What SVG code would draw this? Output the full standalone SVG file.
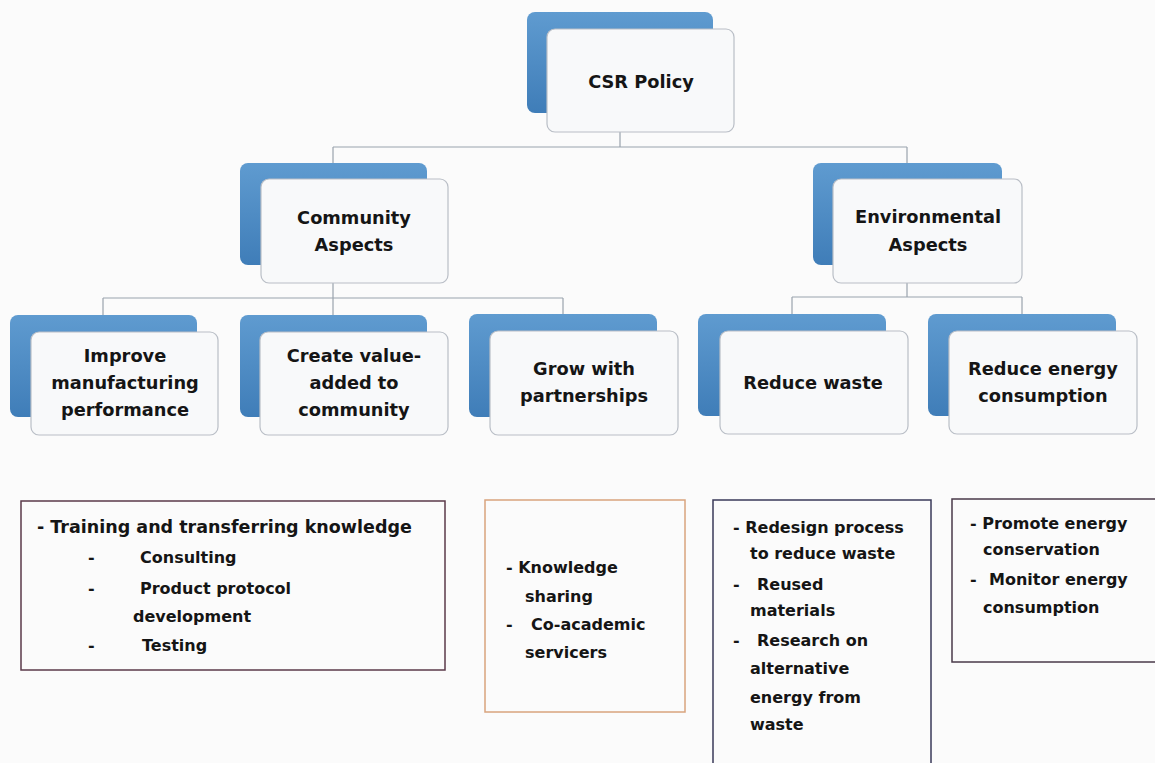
<svg xmlns="http://www.w3.org/2000/svg" width="1155" height="763" viewBox="0 0 1155 763">
<defs>
<linearGradient id="blueG" x1="0" y1="0" x2="0" y2="1">
<stop offset="0" stop-color="#5f9bd0"/>
<stop offset="1" stop-color="#3f7db8"/>
</linearGradient>
<style>
.back{fill:url(#blueG);}
.front{fill:#f8f9fa;stroke:#b9bec6;stroke-width:1.2;}
.lbl{font-family:"DejaVu Sans","Open Sans",sans-serif;font-weight:bold;font-size:17.8px;fill:#151515;text-anchor:middle;}
.conn{fill:none;stroke:#9aa3ad;stroke-width:1.2;}
.box{fill:none;stroke-width:1.5;}
.txt{font-family:"DejaVu Sans","Open Sans",sans-serif;font-weight:bold;font-size:16px;fill:#151515;}
</style>
</defs>
<rect x="0" y="0" width="1155" height="763" fill="#fbfbfb"/>
<g id="connectors">
<path class="conn" d="M620 132 V147 M333 147 H907 M333 147 V163 M907 147 V163"/>
<path class="conn" d="M333 283 V298 M103 298 H563 M103 298 V315 M333 298 V315 M563 298 V315"/>
<path class="conn" d="M907 283 V297 M792 297 H1022 M792 297 V314 M1022 297 V314"/>
</g>
<g id="csr">
<rect class="back" x="527" y="12" width="186" height="101" rx="8"/>
<rect class="front" x="547" y="29" width="187" height="103" rx="8"/>
<text class="lbl" x="641" y="88">CSR Policy</text>
</g>
<g id="community">
<rect class="back" x="240" y="163" width="187" height="102" rx="8"/>
<rect class="front" x="261" y="179" width="187" height="104" rx="8"/>
<text class="lbl" x="354" y="224">Community</text>
<text class="lbl" x="354" y="251">Aspects</text>
</g>
<g id="environmental">
<rect class="back" x="813" y="163" width="189" height="102" rx="8"/>
<rect class="front" x="833" y="179" width="189" height="104" rx="8"/>
<text class="lbl" x="928" y="223">Environmental</text>
<text class="lbl" x="928" y="251">Aspects</text>
</g>
<g id="improve">
<rect class="back" x="10" y="315" width="187" height="102" rx="8"/>
<rect class="front" x="31" y="332" width="187" height="103" rx="8"/>
<text class="lbl" x="125" y="362">Improve</text>
<text class="lbl" x="125" y="389">manufacturing</text>
<text class="lbl" x="125" y="416">performance</text>
</g>
<g id="create">
<rect class="back" x="240" y="315" width="187" height="102" rx="8"/>
<rect class="front" x="260" y="332" width="188" height="103" rx="8"/>
<text class="lbl" x="354" y="362">Create value-</text>
<text class="lbl" x="354" y="389">added to</text>
<text class="lbl" x="354" y="416">community</text>
</g>
<g id="grow">
<rect class="back" x="469" y="314" width="188" height="103" rx="8"/>
<rect class="front" x="490" y="331" width="188" height="104" rx="8"/>
<text class="lbl" x="584" y="375">Grow with</text>
<text class="lbl" x="584" y="402">partnerships</text>
</g>
<g id="waste">
<rect class="back" x="698" y="314" width="188" height="102" rx="8"/>
<rect class="front" x="720" y="331" width="188" height="103" rx="8"/>
<text class="lbl" x="813" y="389">Reduce waste</text>
</g>
<g id="energy">
<rect class="back" x="928" y="314" width="188" height="102" rx="8"/>
<rect class="front" x="949" y="331" width="188" height="103" rx="8"/>
<text class="lbl" x="1043" y="375">Reduce energy</text>
<text class="lbl" x="1043" y="402">consumption</text>
</g>
<g id="list-community">
<rect class="box" x="21" y="501" width="424" height="169" stroke="#5b3a4a"/>
<text class="txt" x="37" y="533" style="font-size:17.5px">- Training and transferring knowledge</text>
<text class="txt" x="88" y="563">-</text><text class="txt" x="140" y="563">Consulting</text>
<text class="txt" x="88" y="594">-</text><text class="txt" x="140" y="594">Product protocol</text>
<text class="txt" x="133" y="622">development</text>
<text class="txt" x="88" y="651">-</text><text class="txt" x="142" y="651">Testing</text>
</g>
<g id="list-partners">
<rect class="box" x="485" y="500" width="200" height="212" stroke="#d9a47e"/>
<text class="txt" x="506" y="573">- Knowledge</text>
<text class="txt" x="525" y="602">sharing</text>
<text class="txt" x="506" y="630">-</text><text class="txt" x="531" y="630">Co-academic</text>
<text class="txt" x="525" y="658">servicers</text>
</g>
<g id="list-waste">
<rect class="box" x="713" y="500" width="218" height="280" stroke="#3a3a5a"/>
<text class="txt" x="733" y="533">- Redesign process</text>
<text class="txt" x="750" y="559">to reduce waste</text>
<text class="txt" x="733" y="590">-</text><text class="txt" x="757" y="590">Reused</text>
<text class="txt" x="750" y="616">materials</text>
<text class="txt" x="733" y="646">-</text><text class="txt" x="757" y="646">Research on</text>
<text class="txt" x="750" y="674">alternative</text>
<text class="txt" x="750" y="703">energy from</text>
<text class="txt" x="750" y="730">waste</text>
</g>
<g id="list-energy">
<rect class="box" x="952" y="499" width="210" height="163" stroke="#4a3a4a"/>
<text class="txt" x="970" y="529">- Promote energy</text>
<text class="txt" x="983" y="555">conservation</text>
<text class="txt" x="970" y="585">-</text><text class="txt" x="989" y="585">Monitor energy</text>
<text class="txt" x="983" y="613">consumption</text>
</g>
</svg>
